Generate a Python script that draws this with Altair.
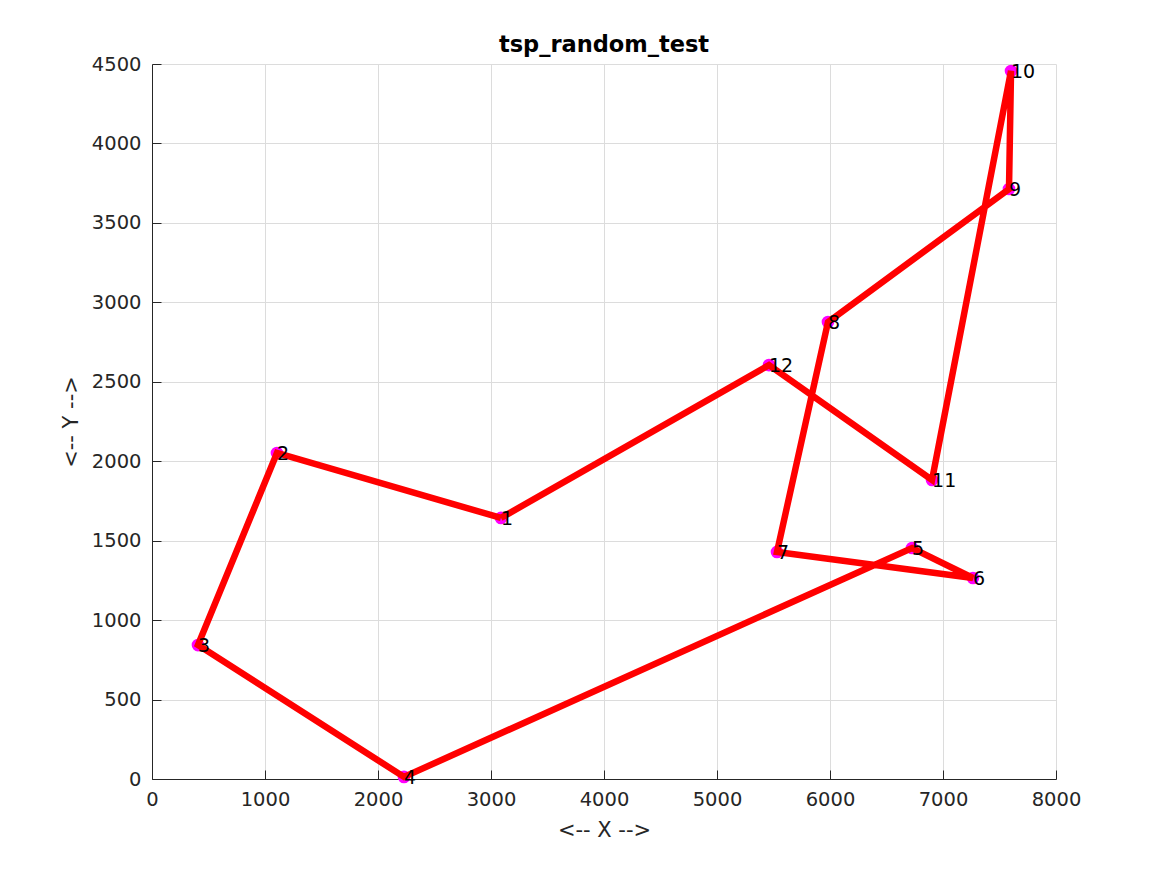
import altair as alt
import pandas as pd

# city coordinates
city_x = [3088, 1106, 407, 2230, 6726, 7265, 5531, 5982, 7584, 7602, 6903, 5460]
city_y = [1643, 2052, 843, 13, 1454, 1265, 1429, 2876, 3713, 4456, 1882, 2605]
city_label = ["1", "2", "3", "4", "5", "6", "7", "8", "9", "10", "11", "12"]
# tour order (closed back to city 1)
tour = [1, 2, 3, 4, 5, 6, 7, 8, 9, 10, 11, 12, 1]
x_ticks = [0, 1000, 2000, 3000, 4000, 5000, 6000, 7000, 8000]
y_ticks = [0, 500, 1000, 1500, 2000, 2500, 3000, 3500, 4000, 4500]

FONT = "DejaVu Sans"

cities = pd.DataFrame({"x": city_x, "y": city_y, "label": city_label})
path = pd.DataFrame({
    "step": list(range(len(tour))),
    "x": [city_x[i - 1] for i in tour],
    "y": [city_y[i - 1] for i in tour],
})

xs = alt.Scale(domain=[0, 8000], nice=False, zero=False)
ys = alt.Scale(domain=[0, 4500], nice=False, zero=False)

xaxis = alt.Axis(values=x_ticks, title="<-- X -->", ticks=False, format="d", labelFlush=False,
                 labelPadding=11, titlePadding=11, grid=True, orient="bottom", zindex=0)
yaxis = alt.Axis(values=y_ticks, title="<-- Y -->", ticks=False, format="d", labelFlush=False,
                 labelPadding=11, titlePadding=10, grid=True, orient="left", zindex=0)

# inward tick marks (axes displaced into the plot, showing ticks only)
xtick_axis = alt.Axis(values=x_ticks, title=None, labels=False, domain=False, grid=False,
                      ticks=True, tickSize=9, offset=-9, orient="bottom",
                      tickColor="#262626", tickWidth=1, zindex=2)
ytick_axis = alt.Axis(values=y_ticks, title=None, labels=False, domain=False, grid=False,
                      ticks=True, tickSize=9, offset=-9, orient="left",
                      tickColor="#262626", tickWidth=1, zindex=2)

pts = alt.Chart(cities).mark_circle(color="#ff00ff", opacity=1, size=160).encode(
    x=alt.X("x:Q", scale=xs, axis=xaxis),
    y=alt.Y("y:Q", scale=ys, axis=yaxis),
)

ticklayer = alt.Chart(cities).mark_circle(opacity=0, size=1).encode(
    x=alt.X("x:Q", scale=xs, axis=xtick_axis),
    y=alt.Y("y:Q", scale=ys, axis=ytick_axis),
)

line = alt.Chart(path).mark_line(color="#ff0000", strokeWidth=6.5, strokeJoin="miter",
                                 strokeCap="butt").encode(
    x=alt.X("x:Q", scale=xs, axis=None),
    y=alt.Y("y:Q", scale=ys, axis=None),
    order="step:Q",
)

labels = alt.Chart(cities).mark_text(align="left", baseline="middle", dx=0, dy=1,
                                     fontSize=19, font=FONT, color="#000000").encode(
    x=alt.X("x:Q", scale=xs, axis=None),
    y=alt.Y("y:Q", scale=ys, axis=None),
    text="label:N",
)

chart = alt.layer(pts, ticklayer, line, labels).resolve_axis(
    x="independent", y="independent"
).properties(
    width=904, height=715,
    title=alt.TitleParams("tsp_random_test", font=FONT, fontSize=22.5, fontWeight="bold",
                          color="#000000", offset=-2),
    autosize=alt.AutoSizeParams(type="none"),
    padding={"left": 144, "top": 56, "right": 100, "bottom": 88},
    background="white",
).configure_view(stroke=None).configure_axis(
    labelFont=FONT, labelFontSize=19.5, labelColor="#262626",
    titleFont=FONT, titleFontSize=21, titleFontWeight="normal", titleColor="#262626",
    domainColor="#262626", domainWidth=1,
    gridColor="#dcdcdc", gridWidth=1,
)

chart.save("out.html", embed_options={"renderer": "svg", "actions": False})
